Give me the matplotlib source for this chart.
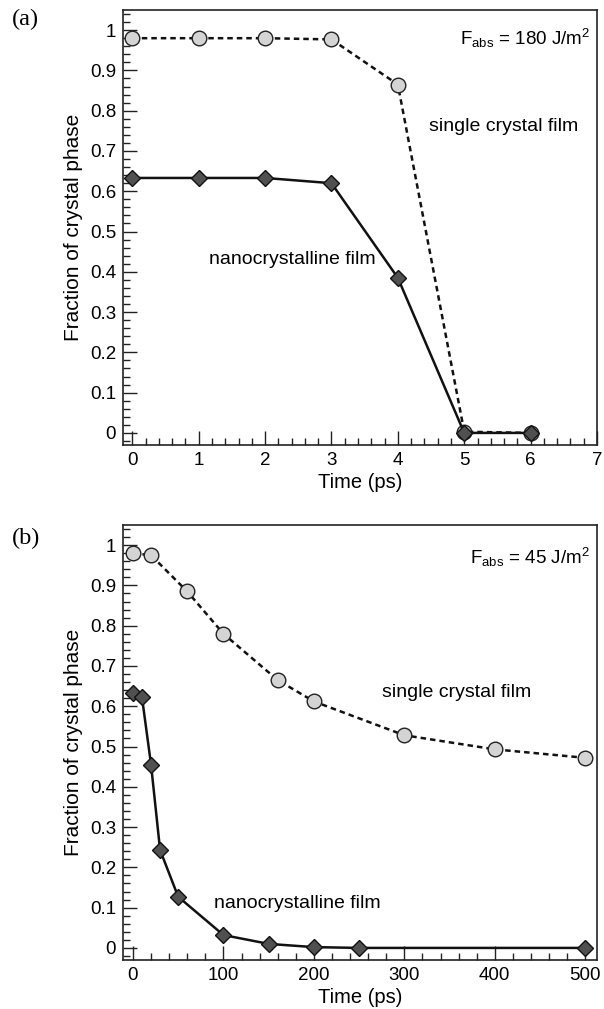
import matplotlib
matplotlib.use("Agg")
import matplotlib.pyplot as plt
from matplotlib.ticker import MultipleLocator

plt.rcParams["font.family"] = ["Liberation Sans", "DejaVu Sans"]
plt.rcParams["mathtext.fontset"] = "custom"
plt.rcParams["mathtext.rm"] = "Liberation Sans"
plt.rcParams["mathtext.it"] = "Liberation Sans:italic"

# ---- data ---------------------------------------------------------
# (a) F_abs = 180 J/m^2
t_a = [0, 1, 2, 3, 4, 5, 6]
single_a = [0.980, 0.980, 0.980, 0.977, 0.865, 0.003, 0.000]
nano_a = [0.633, 0.633, 0.633, 0.620, 0.385, 0.000, 0.000]

# (b) F_abs = 45 J/m^2
t_single_b = [0, 20, 60, 100, 160, 200, 300, 400, 500]
single_b = [0.980, 0.975, 0.885, 0.780, 0.665, 0.612, 0.528, 0.493, 0.472]
t_nano_b = [0, 10, 20, 30, 50, 100, 150, 200, 250, 500]
nano_b = [0.633, 0.622, 0.455, 0.243, 0.127, 0.032, 0.010, 0.002, 0.000, 0.000]

W, H = 604, 1009
fig = plt.figure(figsize=(W / 100, H / 100), dpi=100)

ax_a = fig.add_axes([123 / W, 1 - 445 / H, 474 / W, 435 / H])
ax_b = fig.add_axes([123 / W, 1 - 960 / H, 474 / W, 435 / H])

circ = dict(marker="o", markersize=10.5, markerfacecolor="#d4d4d4",
            markeredgecolor="#222222", markeredgewidth=1.0)
diam = dict(marker="D", markersize=8.5, markerfacecolor="#505050",
            markeredgecolor="#111111", markeredgewidth=1.0)


def style_axes(ax, xmajor, xminor):
    ax.set_ylim(-0.03, 1.05)
    ax.yaxis.set_major_locator(MultipleLocator(0.1))
    ax.yaxis.set_minor_locator(MultipleLocator(0.02))
    ax.xaxis.set_major_locator(MultipleLocator(xmajor))
    ax.xaxis.set_minor_locator(MultipleLocator(xminor))
    ax.yaxis.set_major_formatter(plt.FuncFormatter(lambda v, p: f"{v:g}"))
    ax.tick_params(which="both", direction="in", top=False, right=False,
                   labelsize=13.5, color="#222222", width=1.0)
    ax.tick_params(which="major", length=10, pad=5)
    ax.tick_params(which="minor", length=5)
    for s in ax.spines.values():
        s.set_linewidth(1.2)
        s.set_color("#222222")
    ax.set_ylabel("Fraction of crystal phase", fontsize=15, labelpad=5)
    ax.set_xlabel("Time (ps)", fontsize=14.5, labelpad=3)


# ---- panel (a) ----------------------------------------------------
ax = ax_a
ax.plot(t_a, single_a, "--", color="#111111", linewidth=1.8,
        dashes=(2.2, 1.6), zorder=2, **circ)
ax.plot(t_a, nano_a, "-", color="#111111", linewidth=1.8, zorder=3, **diam)
ax.set_xlim(-0.14, 7.0)
style_axes(ax, 1, 0.2)
ax.text(6.9, 0.98, r"F$_{\rm abs}$ = 180 J/m$^2$", ha="right", va="center",
        fontsize=13.5)
ax.text(4.47, 0.76, "single crystal film", ha="left", va="center", fontsize=14)
ax.text(1.16, 0.43, "nanocrystalline film", ha="left", va="center", fontsize=14)

# ---- panel (b) ----------------------------------------------------
ax = ax_b
ax.plot(t_single_b, single_b, "--", color="#111111", linewidth=1.8,
        dashes=(2.2, 1.6), zorder=2, **circ)
ax.plot(t_nano_b, nano_b, "-", color="#111111", linewidth=1.8, zorder=3, **diam)
ax.set_xlim(-11, 513)
style_axes(ax, 100, 20)
ax.text(505, 0.97, r"F$_{\rm abs}$ = 45 J/m$^2$", ha="right", va="center",
        fontsize=13.5)
ax.text(275, 0.634, "single crystal film", ha="left", va="center", fontsize=14)
ax.text(90, 0.11, "nanocrystalline film", ha="left", va="center", fontsize=14)

fig.text(12 / W, 1 - 19 / H, "(a)", family="Liberation Serif", fontsize=17.5,
         ha="left", va="center")
fig.text(12 / W, 1 - 538 / H, "(b)", family="Liberation Serif", fontsize=17.5,
         ha="left", va="center")

fig.savefig("out.png", dpi=100)
